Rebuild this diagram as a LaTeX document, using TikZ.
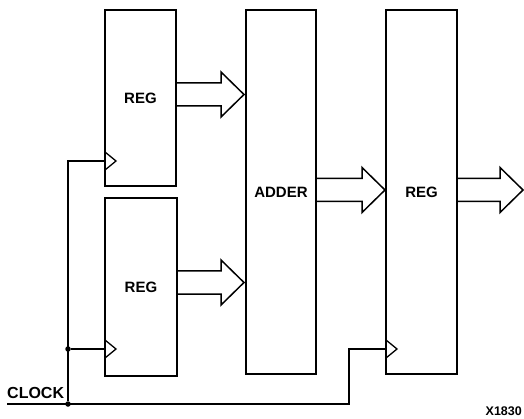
\documentclass[tikz,border=0pt]{standalone}
\usepackage{fontspec}
\setmainfont{Liberation Sans}
\newcommand\harrow[3]{\draw[hollow] (#1,#2-11.5) -- (#3-23,#2-11.5) -- (#3-23,#2-22.5) -- (#3,#2) -- (#3-23,#2+22.5) -- (#3-23,#2+11.5) -- (#1,#2+11.5);}
\begin{document}
\begin{tikzpicture}[x=1pt,y=-1pt,
  blk/.style={draw, line width=1.9pt, inner sep=0pt, font=\bfseries\fontsize{15}{15}\selectfont},
  hollow/.style={line width=1.5pt, line join=miter},
  wire/.style={line width=1.5pt},
  clk/.style={line width=1.3pt},
  dot/.style={circle, fill, inner sep=0pt, minimum size=5.5pt}]
\useasboundingbox (0,0) rectangle (524,419);
% blocks
\node[blk, minimum width=71pt, minimum height=176pt] (reg1) at (140.5,98) {REG};
\node[blk, minimum width=72pt, minimum height=178pt] (reg2) at (141,287) {REG};
\node[blk, minimum width=70pt, minimum height=364pt] (adder) at (281,192) {ADDER};
\node[blk, minimum width=71pt, minimum height=364pt] (reg3) at (421.5,192) {REG};
% hollow bus arrows
\harrow{176}{94.5}{244}
\harrow{177}{282.5}{244}
\harrow{316}{190}{385}
\harrow{457}{190}{523}
% clock wiring
\coordinate (cstart) at (7,404);
\coordinate (cturn) at (349,404);
\coordinate (k1) at (105,161);
\coordinate (k2) at (105,349);
\coordinate (k3) at (386,349);
\node[dot] (d1) at (68,349) {};
\node[dot] (d2) at (68,404) {};
\draw[wire] (cstart) -- (cturn) |- (k3);
\draw[wire] (d2) |- (k1);
\draw[wire] (d1) -- (k2);
\foreach \k in {k1,k2,k3}
  \draw[clk, line join=miter] ([yshift=9pt]\k) -- ([xshift=11pt]\k) -- ([yshift=-9pt]\k);
% labels
\node[anchor=base west, inner sep=0pt, font=\bfseries\fontsize{16}{16}\selectfont] (clock) at (7,398) {CLOCK};
\node[anchor=base east, inner sep=0pt, font=\bfseries\fontsize{12.5}{12.5}\selectfont] (fig) at (522,415) {X1830};
\end{tikzpicture}
\end{document}
